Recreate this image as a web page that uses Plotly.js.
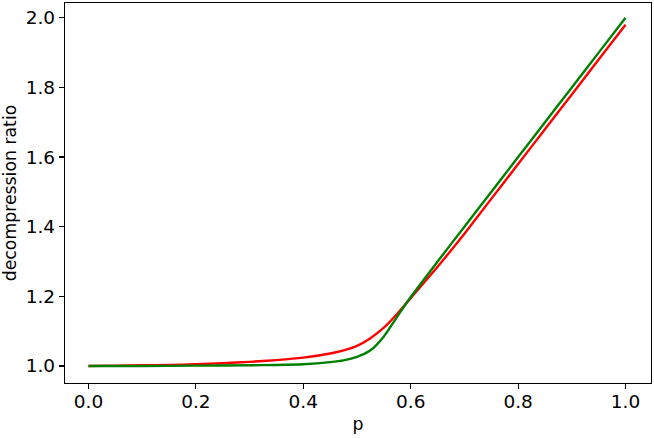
<!DOCTYPE html>
<html>
<head>
<meta charset="utf-8">
<script src="https://cdn.plot.ly/plotly-3.0.1.min.js"></script>
<style>html,body{margin:0;padding:0;background:#fff;}#chart{width:654px;height:438px;}</style>
</head>
<body>
<div id="chart"></div>
<script>
const pRed = [0.0, 0.05, 0.1, 0.15, 0.2, 0.25, 0.3, 0.35, 0.4, 0.45, 0.475, 0.5, 0.525, 0.55, 0.575, 0.6, 0.65, 0.7, 0.75, 0.8, 0.85, 0.9, 0.95, 1.0];
const redRatio = [1.000, 1.001, 1.002, 1.003, 1.005, 1.008, 1.012, 1.017, 1.024, 1.036, 1.045, 1.058, 1.080, 1.110, 1.150, 1.195, 1.285, 1.380, 1.480, 1.580, 1.680, 1.780, 1.880, 1.980];
const pGreen = [0.0, 0.1, 0.2, 0.3, 0.35, 0.4, 0.45, 0.475, 0.5, 0.525, 0.55, 0.575, 0.6, 0.65, 0.7, 0.75, 0.8, 0.85, 0.9, 0.95, 1.0];
const greenRatio = [1.000, 1.000, 1.001, 1.002, 1.003, 1.005, 1.011, 1.016, 1.026, 1.045, 1.085, 1.142, 1.198, 1.300, 1.400, 1.500, 1.600, 1.700, 1.800, 1.900, 2.000];
const xTicks = [0.0, 0.2, 0.4, 0.6, 0.8, 1.0];
const xTickLabels = ["0.0", "0.2", "0.4", "0.6", "0.8", "1.0"];
const yTicks = [1.0, 1.2, 1.4, 1.6, 1.8, 2.0];
const yTickLabels = ["1.0", "1.2", "1.4", "1.6", "1.8", "2.0"];

const tickFont = {family: "DejaVu Sans", size: 18.5, color: "#000"};
const titleFont = {family: "DejaVu Sans", size: 17.3, color: "#000"};
const traces = [
  {x: pRed, y: redRatio, mode: "lines", line: {color: "#ff0000", width: 2.4, shape: "spline", smoothing: 0.6}, showlegend: false},
  {x: pGreen, y: greenRatio, mode: "lines", line: {color: "#008000", width: 2.4, shape: "spline", smoothing: 0.6}, showlegend: false}
];
const axisCommon = {
  showgrid: false, zeroline: false, showline: true, mirror: true,
  linecolor: "#000", linewidth: 1.2, ticks: "outside", ticklen: 5, tickwidth: 1.2, tickcolor: "#000",
  tickfont: tickFont
};
const layout = {
  width: 654, height: 438,
  margin: {l: 65, r: 3, t: 3, b: 55},
  paper_bgcolor: "#fff", plot_bgcolor: "#fff",
  font: tickFont,
  xaxis: Object.assign({}, axisCommon, {
    range: [-0.0437, 1.0474], tickmode: "array", tickvals: xTicks, ticktext: xTickLabels,
    ticklabelstandoff: -3,
    title: {text: "p", font: titleFont, standoff: 6}
  }),
  yaxis: Object.assign({}, axisCommon, {
    range: [0.9512, 2.0425], tickmode: "array", tickvals: yTicks, ticktext: yTickLabels,
    title: {text: "decompression ratio", font: titleFont, standoff: 5}
  })
};
Plotly.newPlot("chart", traces, layout, {staticPlot: true, displayModeBar: false});
</script>
</body>
</html>
